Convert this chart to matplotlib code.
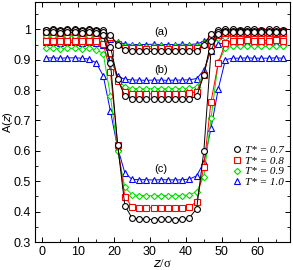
import matplotlib
matplotlib.use("Agg")
import matplotlib.pyplot as plt
from matplotlib.ticker import MultipleLocator
from matplotlib.lines import Line2D

z = list(range(1, 68, 2))  # 34 points

# group (a)
a_07 = [0.999, 1.0, 0.999, 1.0, 1.0, 0.999, 1.0, 0.999, 0.997, 0.98, 0.95, 0.932,
        0.928, 0.927, 0.928, 0.927, 0.928, 0.927, 0.928, 0.927, 0.928,
        0.93, 0.95, 0.985, 0.998, 1.0, 1.0, 0.999, 1.0, 1.0, 0.999, 1.0, 1.0, 0.999]
a_08 = [0.995, 0.995, 0.994, 0.995, 0.995, 0.994, 0.995, 0.994, 0.99, 0.975, 0.952, 0.94,
        0.937, 0.937, 0.936, 0.937, 0.937, 0.936, 0.937, 0.937, 0.937,
        0.94, 0.952, 0.978, 0.99, 0.993, 0.993, 0.993, 0.994, 0.993, 0.993, 0.993, 0.994, 0.993]
a_09 = [0.988, 0.988, 0.987, 0.988, 0.988, 0.987, 0.988, 0.987, 0.984, 0.972, 0.955, 0.946,
        0.944, 0.944, 0.943, 0.944, 0.944, 0.943, 0.944, 0.944, 0.944,
        0.946, 0.955, 0.973, 0.983, 0.985, 0.985, 0.985, 0.986, 0.985, 0.985, 0.985, 0.986, 0.985]
a_10 = [0.982, 0.982, 0.981, 0.982, 0.982, 0.981, 0.982, 0.98, 0.977, 0.968, 0.958, 0.952,
        0.95, 0.95, 0.95, 0.951, 0.95, 0.95, 0.95, 0.951, 0.95,
        0.952, 0.96, 0.972, 0.978, 0.98, 0.98, 0.98, 0.981, 0.98, 0.98, 0.98, 0.981, 0.98]
# group (b)
b_07 = [0.997, 0.997, 0.996, 0.997, 0.997, 0.996, 0.997, 0.996, 0.99, 0.943, 0.836, 0.78,
        0.771, 0.771, 0.77, 0.771, 0.771, 0.77, 0.771, 0.771, 0.772,
        0.779, 0.85, 0.96, 0.99, 0.995, 0.995, 0.995, 0.996, 0.995, 0.995, 0.995, 0.996, 0.995]
b_08 = [0.99, 0.99, 0.989, 0.99, 0.99, 0.989, 0.99, 0.988, 0.982, 0.923, 0.83, 0.795,
        0.788, 0.788, 0.787, 0.788, 0.788, 0.787, 0.788, 0.788, 0.789,
        0.795, 0.85, 0.95, 0.982, 0.988, 0.988, 0.988, 0.989, 0.988, 0.988, 0.988, 0.989, 0.988]
b_09 = [0.977, 0.977, 0.976, 0.977, 0.977, 0.976, 0.977, 0.975, 0.968, 0.92, 0.835, 0.81,
        0.805, 0.805, 0.804, 0.805, 0.805, 0.804, 0.805, 0.805, 0.806,
        0.81, 0.855, 0.945, 0.97, 0.975, 0.975, 0.975, 0.976, 0.975, 0.975, 0.975, 0.976, 0.975]
b_10 = [0.957, 0.957, 0.956, 0.957, 0.957, 0.956, 0.957, 0.955, 0.95, 0.91, 0.845, 0.836,
        0.833, 0.833, 0.832, 0.833, 0.833, 0.832, 0.833, 0.833, 0.834,
        0.838, 0.865, 0.93, 0.952, 0.955, 0.955, 0.955, 0.956, 0.955, 0.955, 0.955, 0.956, 0.955]
# group (c)
c_07 = [0.99, 0.99, 0.989, 0.99, 0.99, 0.989, 0.99, 0.988, 0.98, 0.89, 0.62, 0.42,
        0.379, 0.375, 0.375, 0.374, 0.375, 0.375, 0.374, 0.375, 0.38,
        0.41, 0.60, 0.93, 0.985, 0.99, 0.99, 0.99, 0.991, 0.99, 0.99, 0.99, 0.991, 0.99]
c_08 = [0.962, 0.962, 0.961, 0.962, 0.962, 0.961, 0.962, 0.96, 0.952, 0.86, 0.62, 0.449,
        0.416, 0.413, 0.413, 0.412, 0.413, 0.413, 0.412, 0.413, 0.415,
        0.433, 0.548, 0.762, 0.889, 0.955, 0.963, 0.963, 0.964, 0.963, 0.963, 0.963, 0.964, 0.963]
c_09 = [0.937, 0.937, 0.936, 0.937, 0.937, 0.936, 0.937, 0.933, 0.92, 0.78, 0.60, 0.48,
        0.456, 0.453, 0.453, 0.452, 0.453, 0.453, 0.452, 0.453, 0.455,
        0.466, 0.515, 0.707, 0.891, 0.938, 0.944, 0.944, 0.945, 0.944, 0.944, 0.944, 0.945, 0.944]
c_10 = [0.906, 0.906, 0.905, 0.906, 0.906, 0.905, 0.902, 0.89, 0.847, 0.73, 0.61, 0.528,
        0.506, 0.505, 0.505, 0.504, 0.505, 0.505, 0.504, 0.505, 0.507,
        0.518, 0.562, 0.675, 0.803, 0.9, 0.905, 0.905, 0.906, 0.905, 0.905, 0.905, 0.906, 0.905]

temps = ["0.7", "0.8", "0.9", "1.0"]
colors = ["#000000", "#ff0000", "#00e000", "#0000ff"]
markers = ["o", "s", "D", "^"]
msizes = [4.2, 4.0, 3.2, 4.2]
groups = [[a_07, a_08, a_09, a_10], [b_07, b_08, b_09, b_10], [c_07, c_08, c_09, c_10]]
group_labels = ["(a)", "(b)", "(c)"]
group_label_pos = [(33, 0.99), (33, 0.866), (33, 0.54)]

fig = plt.figure(figsize=(2.93, 2.70), dpi=100)
ax = fig.add_axes([0.1195, 0.1037, 0.8705, 0.889])

for grp in groups:
    for vals, c, m, ms in zip(grp[::-1], colors[::-1], markers[::-1], msizes[::-1]):
        ax.plot(z, vals, color=c, lw=0.7, marker=m, ms=ms, mfc="white",
                mec=c, mew=0.8)

for lab, (x, y) in zip(group_labels, group_label_pos):
    ax.text(x, y, lab, ha="center", va="center", fontsize=8,
            family="Liberation Sans")

ax.set_xlim(-2, 69)
ax.set_ylim(0.3, 1.09)
ax.xaxis.set_major_locator(MultipleLocator(10))
ax.xaxis.set_minor_locator(MultipleLocator(5))
ax.yaxis.set_major_locator(MultipleLocator(0.1))
ax.yaxis.set_minor_locator(MultipleLocator(0.05))
ax.tick_params(which="both", direction="in", top=True, right=True)
ax.tick_params(which="major", length=3.5, width=0.7, labelsize=9, pad=3)
ax.tick_params(which="minor", length=2, width=0.6)
for lbl in ax.get_xticklabels() + ax.get_yticklabels():
    lbl.set_family("Liberation Sans")
ax.set_yticks([0.3, 0.4, 0.5, 0.6, 0.7, 0.8, 0.9, 1.0])
ax.set_yticklabels(["0.3", "0.4", "0.5", "0.6", "0.7", "0.8", "0.9", "1"],
                   family="Liberation Sans")
for s in ax.spines.values():
    s.set_linewidth(0.8)

ax.set_ylabel(r"A($z$)", fontsize=8, family="Liberation Sans")
ax.yaxis.set_label_coords(-0.078, 0.5)
ax.set_xlabel(r"$z$/σ", fontsize=9, family="Liberation Serif", labelpad=0)

handles = [Line2D([], [], ls="none", marker=m, ms=ms, mfc="white", mec=c, mew=0.8)
           for m, c, ms in zip(markers, colors, msizes)]
labels = ["T* = " + t for t in temps]
leg = ax.legend(handles, labels, loc="lower right", bbox_to_anchor=(1.0, 0.2),
                frameon=False, handlelength=0.6, handletextpad=0.4,
                labelspacing=0.1, borderpad=0.1,
                prop={"family": "Liberation Serif", "style": "italic", "size": 8})

fig.savefig("out.png", dpi=100)
